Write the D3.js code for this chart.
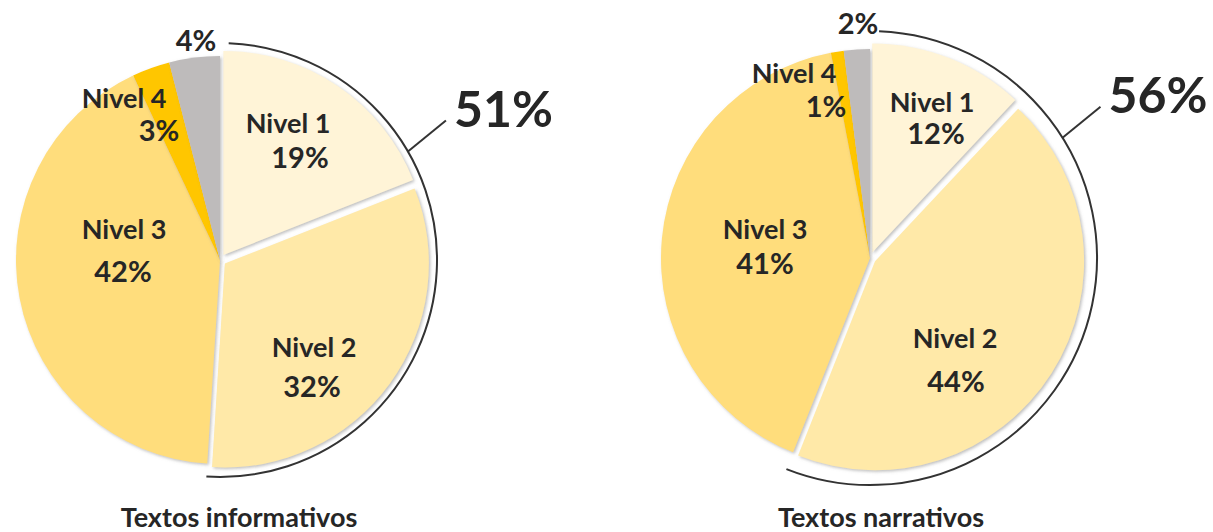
<!DOCTYPE html>
<html>
<head>
<meta charset="utf-8">
<script src="https://cdn.jsdelivr.net/npm/d3@7"></script>
<style>
  body { margin: 0; background: #fff; }
  svg { display: block; }
</style>
</head>
<body>
<div id="chart"></div>
<script>
// data
const levels = ["Nivel 1", "Nivel 2", "Nivel 3", "Nivel 4", ""];
const informativos = [19, 32, 42, 3, 4];
const narrativos = [12, 44, 41, 1, 2];
const titles = ["Textos informativos", "Textos narrativos"];
const topTwo = [51, 56]; // Nivel 1 + Nivel 2

const colors = ["#FFF4D7", "#FFE9A8", "#FFDD7C", "#FFC600", "#BEBBBB"];

const width = 1213, height = 532;

// layout of each pie (center, radius, label offsets from the center)
const layouts = [
  { cx: 220, cy: 260, r: 204, arcR: 217, leaderAngle: 60, titleX: 239,
    names: [[68, -127], [94, 97], [-96, -21], [-96, -152], null],
    pcts:  [[80, -92], [92, 137], [-97, 22], [-61, -119], [-24, -209]] },
  { cx: 870, cy: 258, r: 209, arcR: 227, leaderAngle: 58, titleX: 881,
    names: [[62, -146], [85, 90], [-105, -19], [-76, -175], null],
    pcts:  [[66, -114], [86, 134], [-105, 16], [-44, -141], [-12, -224]] }
];

const svg = d3.select("#chart").append("svg")
  .attr("width", width)
  .attr("height", height)
  .style("font-family", "Lato, 'Open Sans', sans-serif");

// soft shadow under the slices
svg.append("defs").append("filter")
  .attr("id", "shadow")
  .attr("x", "-10%").attr("y", "-10%").attr("width", "120%").attr("height", "120%")
  .append("feDropShadow")
  .attr("dx", 1.5).attr("dy", 1.5)
  .attr("stdDeviation", 1.5)
  .attr("flood-color", "#888")
  .attr("flood-opacity", 0.55);

const pie = d3.pie().sort(null).value(d => d);
const toRad = d => d * Math.PI / 180;

[informativos, narrativos].forEach((values, k) => {
  const L = layouts[k];
  const g = svg.append("g").attr("transform", `translate(${L.cx},${L.cy})`);
  const arcs = pie(values);
  const arc = d3.arc().innerRadius(0).outerRadius(L.r);

  // slices, Nivel 1 and Nivel 2 pulled out a bit
  g.selectAll("path.slice")
    .data(arcs)
    .join("path")
    .attr("class", "slice")
    .attr("d", arc)
    .attr("fill", (d, i) => colors[i])
    .attr("filter", "url(#shadow)")
    .attr("transform", (d, i) => {
      if (i > 1) return null;
      const mid = (d.startAngle + d.endAngle) / 2;
      return `translate(${Math.sin(mid) * 6},${-Math.cos(mid) * 6})`;
    });

  // bracket arc around Nivel 1 + Nivel 2
  const endAngle = arcs[1].endAngle;
  g.append("path")
    .attr("d", d3.arc().innerRadius(L.arcR).outerRadius(L.arcR)
      .startAngle(0.04).endAngle(endAngle)())
    .attr("fill", "none")
    .attr("stroke", "#333")
    .attr("stroke-width", 2);

  const a = toRad(L.leaderAngle);
  const x0 = Math.sin(a) * L.arcR, y0 = -Math.cos(a) * L.arcR;
  const x1 = x0 + 38, y1 = y0 - 31;
  g.append("line")
    .attr("x1", x0).attr("y1", y0)
    .attr("x2", x1).attr("y2", y1)
    .attr("stroke", "#333")
    .attr("stroke-width", 2);

  g.append("text")
    .attr("x", x1 + 8)
    .attr("y", y1 + 6)
    .attr("font-size", 50)
    .attr("font-weight", 700)
    .attr("fill", "#262626")
    .text(topTwo[k] + "%");

  // slice labels
  arcs.forEach((d, i) => {
    if (L.names[i] && levels[i]) {
      g.append("text")
        .attr("x", L.names[i][0]).attr("y", L.names[i][1])
        .attr("text-anchor", "middle")
        .attr("font-size", 27)
        .attr("font-weight", 700)
        .attr("fill", "#262626")
        .text(levels[i]);
    }
    g.append("text")
      .attr("x", L.pcts[i][0]).attr("y", L.pcts[i][1])
      .attr("text-anchor", "middle")
      .attr("font-size", 29)
      .attr("font-weight", 700)
      .attr("fill", "#262626")
      .text(values[i] + "%");
  });

  svg.append("text")
    .attr("x", L.titleX)
    .attr("y", 527)
    .attr("text-anchor", "middle")
    .attr("font-size", 27)
    .attr("font-weight", 700)
    .attr("fill", "#262626")
    .text(titles[k]);
});
</script>
</body>
</html>
